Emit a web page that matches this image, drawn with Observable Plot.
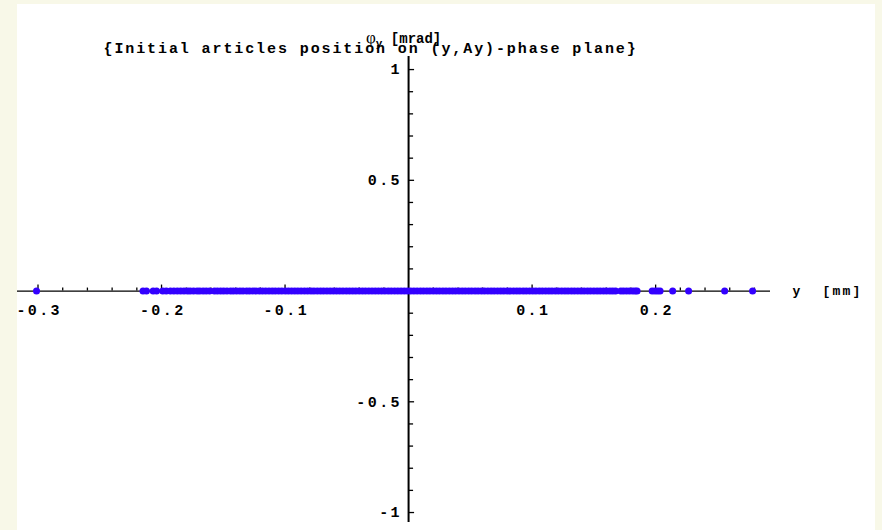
<!DOCTYPE html>
<html>
<head>
<meta charset="utf-8">
<script src="https://cdn.jsdelivr.net/npm/d3@7"></script>
<script src="https://cdn.jsdelivr.net/npm/@observablehq/plot@0.6"></script>
<style>
  html, body { margin: 0; padding: 0; background: #f8f8e8; width: 882px; height: 530px; overflow: hidden; }
  #panel { position: absolute; left: 17px; top: 4px; width: 858px; height: 526px; background: #ffffff; }
  #panel svg { display: block; }
  #ylabel { position: absolute; font-family: "Liberation Mono", monospace; font-weight: bold; font-size: 14px; color: #000; white-space: pre; line-height: 16px; }
  #ylabel .phi { font-family: "Liberation Serif", "DejaVu Serif", serif; font-size: 17px; font-weight: normal; }
  #ylabel sub { font-size: 11px; vertical-align: -4px; line-height: 0; }
</style>
</head>
<body>
<div id="panel"></div>
<script>
// ---- data ----
const titleText = "{Initial articles position on (y,Ay)-phase plane}";
const xAxisLabel = "y  [mm]";
const yAxisLabelMain = "φ";
const yAxisLabelSub = "y";
const yAxisLabelUnit = " [mrad]";

// axis extents (data units)
const xAxisExtent = [-0.3166, 0.293];
const yAxisExtent = [-1.045, 1.059];

// ticks
const xMajorTicks = [-0.3, -0.2, -0.1, 0.1, 0.2];
const xMajorLabels = ["-0.3", "-0.2", "-0.1", "0.1", "0.2"];
const xMinorTicks = [-0.28, -0.26, -0.24, -0.22, -0.18, -0.16, -0.14, -0.12, -0.08, -0.06, -0.04, -0.02,
                     0.02, 0.04, 0.06, 0.08, 0.12, 0.14, 0.16, 0.18, 0.22, 0.24, 0.26, 0.28];
const yMajorTicks = [-1, -0.5, 0.5, 1];
const yMajorLabels = ["-1", "-0.5", "0.5", "1"];
const yMinorTicks = [-0.9, -0.8, -0.7, -0.6, -0.4, -0.3, -0.2, -0.1, 0.1, 0.2, 0.3, 0.4, 0.6, 0.7, 0.8, 0.9];

// particle y positions [mm] (all at φy = 0)
const particlesLeftTail = [-0.3012, -0.2150, -0.2122, -0.2068, -0.2040, -0.1990, -0.1962, -0.1928,
                           -0.1900, -0.1872, -0.1845, -0.1818];
const particlesCore = [-0.1790, -0.1768, -0.1741, -0.1712, -0.1690, -0.1663, -0.1638, -0.1611,
  -0.1572, -0.1548, -0.1522, -0.1497, -0.1470, -0.1441, -0.1418, -0.1392, -0.1365, -0.1340, -0.1311,
  -0.1287, -0.1260, -0.1236, -0.1208, -0.1183, -0.1157, -0.1130, -0.1104, -0.1079, -0.1052, -0.1026,
  -0.0998, -0.0973, -0.0947, -0.0921, -0.0896, -0.0870, -0.0843, -0.0817, -0.0790, -0.0766, -0.0739,
  -0.0713, -0.0688, -0.0661, -0.0635, -0.0609, -0.0583, -0.0557, -0.0531, -0.0504, -0.0478, -0.0452,
  -0.0427, -0.0400, -0.0374, -0.0349, -0.0322, -0.0296, -0.0270, -0.0244, -0.0218, -0.0192, -0.0165,
  -0.0140, -0.0113, -0.0087, -0.0061, -0.0035, -0.0009, 0.0017, 0.0043, 0.0069, 0.0096, 0.0121,
  0.0148, 0.0173, 0.0200, 0.0226, 0.0251, 0.0278, 0.0303, 0.0330, 0.0356, 0.0381, 0.0408, 0.0434,
  0.0459, 0.0486, 0.0511, 0.0538, 0.0563, 0.0590, 0.0615, 0.0642, 0.0668, 0.0693, 0.0720, 0.0746,
  0.0771, 0.0798, 0.0823, 0.0850, 0.0876, 0.0901, 0.0928, 0.0953, 0.0980, 0.1006, 0.1031, 0.1058,
  0.1083, 0.1110, 0.1136, 0.1161, 0.1188, 0.1213, 0.1240, 0.1266, 0.1291, 0.1318, 0.1343, 0.1370,
  0.1396, 0.1421, 0.1448, 0.1473, 0.1500, 0.1526, 0.1551, 0.1578, 0.1603, 0.1630, 0.1653, 0.1676];
const particlesRightTail = [0.1718, 0.1740, 0.1765, 0.1790, 0.1815, 0.1835, 0.1850,
                            0.1972, 0.1995, 0.2016, 0.2036, 0.2138, 0.2267, 0.2559, 0.2785];

// ---- build tables ----
const particles = [...particlesLeftTail, ...particlesCore, ...particlesRightTail].map(v => ({y: v, phi: 0}));
const xLabelRows = xMajorTicks.map((v, i) => ({v, label: xMajorLabels[i]}));
const yLabelRows = yMajorTicks.map((v, i) => ({v, label: yMajorLabels[i]}));

const font = '"Liberation Mono", "DejaVu Sans Mono", monospace';
const blue = "#3300ff";
const tickSpacing = 2.4, titleSpacing = 1.9, xLabelSpacing = 2.2;

const chart = Plot.plot({
  width: 858,
  height: 526,
  marginLeft: 0,
  marginRight: 105,
  marginTop: 52,
  marginBottom: 8,
  style: {background: "transparent", fontFamily: font, overflow: "visible"},
  x: {domain: xAxisExtent, axis: null},
  y: {domain: yAxisExtent, axis: null},
  marks: [
    Plot.ruleY([0], {stroke: "black", strokeWidth: 1.3}),
    Plot.ruleX([0], {stroke: "black", strokeWidth: 2}),
    Plot.ruleX(xMajorTicks, {x: d => d, y1: 0, y2: 0, insetTop: -6, stroke: "black", strokeWidth: 1.3}),
    Plot.ruleX(xMinorTicks, {x: d => d, y1: 0, y2: 0, insetTop: -3, stroke: "black", strokeWidth: 1.3}),
    Plot.ruleY(yMajorTicks, {y: d => d, x1: 0, x2: 0, insetRight: -6, stroke: "black", strokeWidth: 1.3}),
    Plot.ruleY(yMinorTicks, {y: d => d, x1: 0, x2: 0, insetRight: -5, stroke: "black", strokeWidth: 1.3}),
    Plot.dot(particles, {x: "y", y: "phi", r: 3.5, fill: blue, stroke: "none"}),
    Plot.text(xLabelRows, {x: "v", y: 0, text: "label", dy: 19, dx: tickSpacing / 2, fontSize: 15, fontWeight: "bold",
      fontFamily: font, fill: "black"}),
    Plot.text(yLabelRows, {x: 0, y: "v", text: "label", dx: -9 + tickSpacing, textAnchor: "end", fontSize: 15,
      fontWeight: "bold", fontFamily: font, fill: "black"}),
    Plot.text([xAxisLabel], {frameAnchor: "right", y: 0, text: d => d, dx: 22, textAnchor: "start",
      fontSize: 13, fontWeight: "bold", fontFamily: font, fill: "black"}),
    Plot.text([titleText], {frameAnchor: "top-left", text: d => d, dx: 86, dy: -8, lineAnchor: "middle",
      textAnchor: "start", fontSize: 15, fontWeight: "bold", fontFamily: font, fill: "black"})
  ]
});

// letter spacing per text mark (in mark order)
const textGroups = chart.querySelectorAll('g[aria-label="text"]');
const spacings = [tickSpacing, tickSpacing, xLabelSpacing, titleSpacing];
textGroups.forEach((g, i) => {
  g.querySelectorAll("text").forEach(t => {
    t.style.letterSpacing = spacings[i] + "px";
    t.style.whiteSpace = "pre";
  });
});

const panel = document.getElementById("panel");
panel.appendChild(chart);

const yl = document.createElement("div");
yl.id = "ylabel";
yl.style.left = "349px";
yl.style.top = "26px";
const phi = document.createElement("span");
phi.className = "phi";
phi.textContent = yAxisLabelMain;
yl.appendChild(phi);
const sub = document.createElement("sub");
sub.textContent = yAxisLabelSub;
yl.appendChild(sub);
yl.appendChild(document.createTextNode(yAxisLabelUnit));
panel.appendChild(yl);
</script>
</body>
</html>
